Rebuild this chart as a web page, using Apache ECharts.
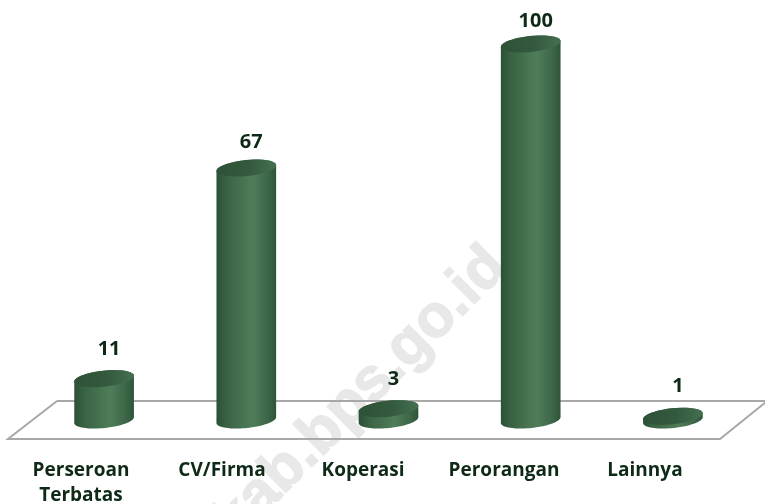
<!DOCTYPE html>
<html><head><meta charset="utf-8">
<style>html,body{margin:0;padding:0;background:#fff}#c{width:765px;height:504px}</style>
<script src="https://cdn.jsdelivr.net/npm/echarts@6/dist/echarts.min.js"></script>
</head><body><div id="c"></div>
<script>
const categories = ['Perseroan\nTerbatas','CV/Firma','Koperasi','Perorangan','Lainnya'];
const values = [11,67,3,100,1];
const FONT = '"Open Sans","Noto Sans",sans-serif';
const INK = '#0e2a17';
const RX = 30, RY = 8, TILT = 6 * Math.PI / 180;
function ellipsePt(cx, cy, t) {
  const x = RX * Math.cos(t), y = RY * Math.sin(t);
  return [cx + x * Math.cos(TILT) + y * Math.sin(TILT), cy - x * Math.sin(TILT) + y * Math.cos(TILT)];
}
function arc(cx, cy, from, to) {
  const pts = [];
  for (let i = 0; i <= 40; i++) pts.push(ellipsePt(cx, cy, from + (to - from) * i / 40));
  return pts;
}
const sideFill = {type:'linear',x:0,y:0,x2:1,y2:0,colorStops:[
  {offset:0,color:'#2c5035'},{offset:.18,color:'#3a6344'},{offset:.6,color:'#4f7d59'},{offset:.85,color:'#3e6849'},{offset:1,color:'#2f5439'}]};
const topFill = {type:'linear',x:0,y:0,x2:1,y2:0,colorStops:[
  {offset:0,color:'#2e5238'},{offset:.55,color:'#33593e'},{offset:1,color:'#447050'}]};
const chart = echarts.init(document.getElementById('c'));
chart.setOption({
  animation:false,
  backgroundColor:'#fff',
  grid:[
    {left:33,width:711,top:44,height:376,outerBoundsMode:'none'},
    {left:10.5,width:705,top:44,height:376,outerBoundsMode:'none'}
  ],
  xAxis:[
    {type:'category',gridIndex:0,data:categories,show:false},
    {type:'category',gridIndex:1,data:categories,axisLine:{show:false},axisTick:{show:false},
     axisLabel:{margin:38,fontFamily:FONT,fontWeight:'bold',fontSize:19,color:INK,lineHeight:25,interval:0,verticalAlign:'top'}}
  ],
  yAxis:[
    {type:'value',gridIndex:0,min:0,max:100,show:false},
    {type:'value',gridIndex:1,min:0,max:100,show:false}
  ],
  graphic:[
    {type:'text',z:0,x:355,y:400,rotation:Math.PI/4,style:{text:'ikab.bps.go.id',x:0,y:0,align:'center',verticalAlign:'middle',
      font:'bold 60px "Liberation Sans",sans-serif',fill:'#e8e8e8',stroke:'#e8e8e8',lineWidth:1.5}},
    {type:'polyline',z:1,shape:{points:[[57,401],[765,401]]},style:{stroke:'#a8a8a8',lineWidth:2,fill:null}},
    {type:'polyline',z:1,shape:{points:[[57,401],[8,439],[720,439],[766,402]]},style:{stroke:'#a8a8a8',lineWidth:2,fill:null}}
  ],
  series:[{
    type:'custom',silent:true,clip:false,data:values,xAxisIndex:0,yAxisIndex:0,
    encode:{x:0,y:1},
    renderItem(params, api){
      const v = api.value(1);
      const base = api.coord([params.dataIndex,0]);
      const top = api.coord([params.dataIndex,v]);
      const cx = base[0];
      const side = arc(cx,base[1],0,Math.PI).concat(arc(cx,top[1],Math.PI,2*Math.PI));
      return {type:'group',children:[
        {type:'polygon',shape:{points:side},style:{fill:sideFill}},
        {type:'polygon',shape:{points:arc(cx,top[1],0,2*Math.PI)},style:{fill:topFill}},
        {type:'text',style:{text:String(v),x:cx+5,y:top[1]-30+0.07*v,align:'center',verticalAlign:'middle',
          font:'bold 20px '+FONT,fill:INK}}
      ]};
    }
  }]
});
</script></body></html>
